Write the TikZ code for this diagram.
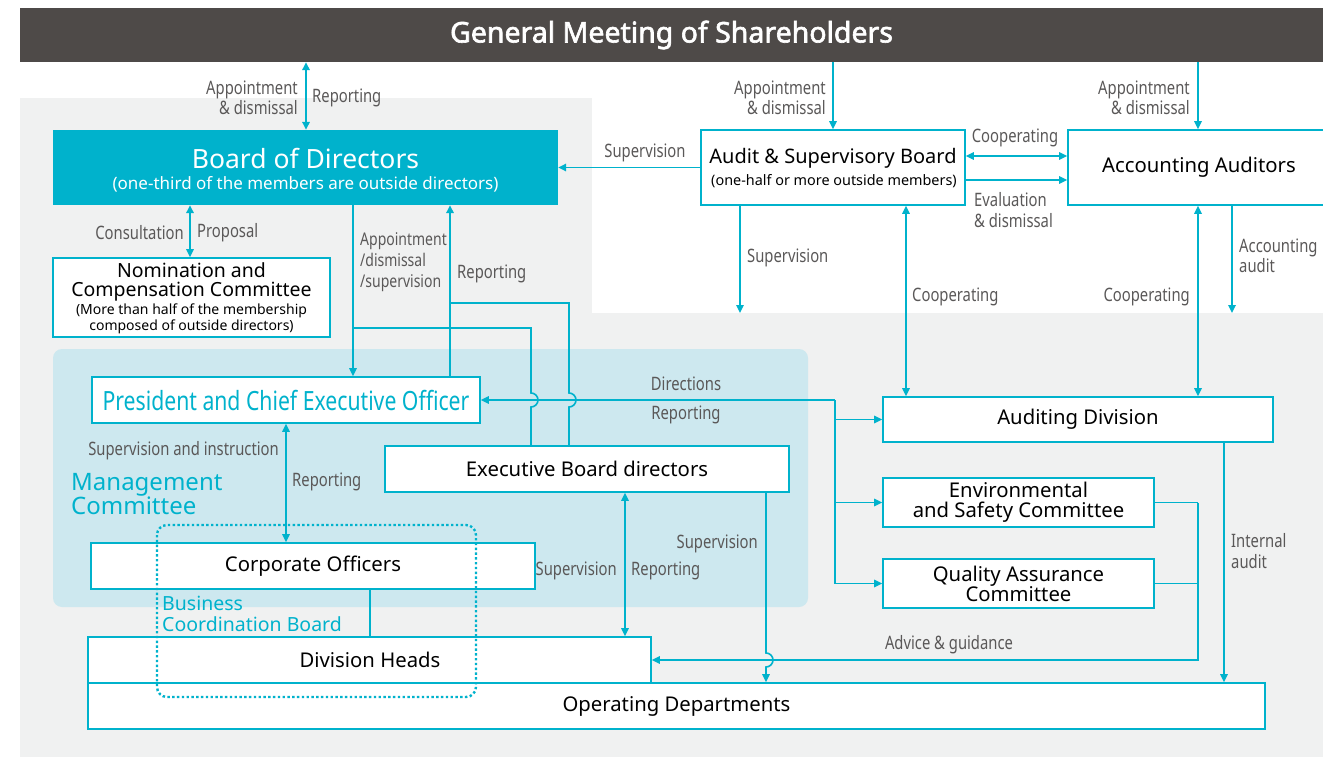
\documentclass[tikz,border=0pt]{standalone}
\usepackage{fontspec}
\setmainfont{Noto Sans}
\newfontfamily\condfont{Noto Sans}[FakeStretch=0.80]
\newfontfamily\titlefont{Noto Sans}[FakeBold=2.2]
\usetikzlibrary{arrows.meta,calc}
\definecolor{cy}{HTML}{00B2CC}
\definecolor{lbl}{HTML}{5A5858}
\definecolor{gmbg}{HTML}{4E4A48}
\definecolor{bgg}{HTML}{F0F1F1}
\definecolor{mgmt}{HTML}{CDE8EF}
\tikzset{
  box/.style={draw=cy, fill=white, line width=1.6pt, inner sep=0pt, align=center, text=black, font=\fontsize{20.3}{21}\selectfont},
  lab/.style={text=lbl, inner sep=0pt, font=\condfont\fontsize{18.5}{20.5}\selectfont},
  ln/.style={draw=cy, line width=1.6pt},
  ar/.style={ln, -{Triangle[length=8pt,width=7.5pt]}},
  arr/.style={ln, {Triangle[length=8pt,width=7.5pt]}-{Triangle[length=8pt,width=7.5pt]}},
}
\begin{document}
\begin{tikzpicture}[x=1pt,y=-1pt]
\useasboundingbox (0,0) rectangle (1323,757);
% backgrounds
\fill[bgg] (20,98) rectangle (592,313);
\fill[bgg] (20,313) rectangle (1323,757);
\fill[mgmt, rounded corners=9pt] (53,349) rectangle (808,607);
% title
\node[fill=gmbg, minimum width=1303pt, minimum height=54pt, inner sep=0pt, text=white, font=\titlefont\fontsize{28.5}{30}\selectfont] (gm) at (671.5,35) {General Meeting of Shareholders};
% boxes
\node[fill=cy, minimum width=505pt, minimum height=75pt, inner sep=0pt] (bod) at (305.5,167.5) {};
\node[text=white, font=\fontsize{26.5}{28}\selectfont, inner sep=0pt] (bodt) at (305.5,158) {Board of Directors};
\node[text=white, font=\fontsize{17}{18}\selectfont, inner sep=0pt] (bods) at (305.5,184) {(one-third of the members are outside directors)};
\node[box, minimum width=277pt, minimum height=79pt] (nom) at (191.5,297.5) {};
\node[inner sep=0pt, align=center, font=\fontsize{19.5}{18.5}\selectfont] (nomt) at (191.5,282) {Nomination and\\Compensation Committee};
\node[inner sep=0pt, align=center, font=\fontsize{14}{16}\selectfont] (noms) at (191.5,318.5) {(More than half of the membership\\composed of outside directors)};
\node[box, minimum width=264pt, minimum height=75pt] (asb) at (833,167.5) {};
\node[inner sep=0pt, font=\fontsize{20}{20}\selectfont] (asbt) at (833,158) {Audit \& Supervisory Board};
\node[inner sep=0pt, font=\fontsize{14.4}{16}\selectfont] (asbs) at (834,181) {(one-half or more outside members)};
\node[box, minimum width=262pt, minimum height=75pt] (aa) at (1199,167.5) {Accounting Auditors};
\node[box, minimum width=388pt, minimum height=46pt, text=cy, font=\condfont\fontsize{26.5}{27}\selectfont] (pres) at (286,400) {President and Chief Executive Officer};
\node[box, minimum width=404pt, minimum height=46pt] (ebd) at (587,469) {Executive Board directors};
\node[box, minimum width=444pt, minimum height=46pt] (co) at (313,566) {Corporate Officers};
\node[box, minimum width=1177pt, minimum height=46pt] (od) at (676.5,706) {Operating Departments};
\node[box, minimum width=563pt, minimum height=46pt] (dh) at (369.5,660) {};
\node[inner sep=0pt, font=\fontsize{20.3}{21}\selectfont] (dht) at (370,660) {Division Heads};
\node[box, minimum width=390pt, minimum height=45pt] (ad) at (1078,419.5) {Auditing Division};
\node[box, minimum width=271pt, minimum height=49pt, font=\fontsize{20.3}{20}\selectfont] (env) at (1018.5,502.5) {Environmental\\and Safety Committee};
\node[box, minimum width=271pt, minimum height=49pt, font=\fontsize{20.3}{20}\selectfont] (qa) at (1018.5,583.5) {Quality Assurance\\Committee};
% column coordinates
\foreach \x in {190,286,306,353,370,450,531,569,625,740,766,835,906,1198,1224,1232} {\coordinate (c\x) at (\x,0);}
\coordinate (r156) at (0,156);
\coordinate (r180) at (0,180);
\coordinate (r313) at (0,313);
\coordinate (r660) at (0,660);
% connectors
\draw[arr] (gm.south -| c306) -- (bod.north -| c306);
\draw[arr] (bod.south -| c190) -- (nom.north -| c190);
\draw[ar] (gm.south -| asb.north) -- (asb.north);
\draw[ar] (gm.south -| c1198) -- (aa.north -| c1198);
\draw[ar] (asb.west) -- (bod.east |- asb.west);
\draw[arr] (asb.east |- r156) -- (aa.west |- r156);
\draw[ar] (asb.east |- r180) -- (aa.west |- r180);
\draw[ar] (asb.south -| c740) -- (c740 |- r313);
\draw[ar] (aa.south -| c1232) -- (c1232 |- r313);
\draw[arr] (asb.south -| c906) -- (ad.north -| c906);
\draw[arr] (aa.south -| c1198) -- (ad.north -| c1198);
\draw[ar] (bod.south -| c353) -- (pres.north -| c353);
\draw[ar] (pres.north -| c450) -- (bod.south -| c450);
\draw[ln] (c353 |- 0,328) -- (c531 |- 0,328) -- (c531 |- 0,393) arc[start angle=90,end angle=-90,radius=7pt] -- (ebd.north -| c531);
\draw[ln] (c450 |- 0,303) -- (c569 |- 0,303) -- (c569 |- 0,393) arc[start angle=90,end angle=-90,radius=7pt] -- (ebd.north -| c569);
\draw[ar] (c835 |- pres.east) -- (pres.east);
\draw[ln] (c835 |- pres.east) -- (c835 |- qa.west);
\draw[ar] (c835 |- ad.west) -- (ad.west);
\draw[ar] (c835 |- env.west) -- (env.west);
\draw[ar] (c835 |- qa.west) -- (qa.west);
\draw[ln] (env.east) -- (c1198 |- env.east);
\draw[ln] (qa.east) -- (c1198 |- qa.east);
\draw[ar] (c1198 |- env.east) -- (c1198 |- r660) -- (dh.east |- r660);
\draw[ar] (ad.south -| c1224) -- (od.north -| c1224);
\draw[ar] (ebd.south -| c766) -- (c766 |- 0,653) arc[start angle=90,end angle=-90,radius=7pt] -- (od.north -| c766);
\draw[arr] (ebd.south -| c625) -- (dh.north -| c625);
\draw[arr] (pres.south -| c286) -- (co.north -| c286);
\draw[ln] (co.south -| c370) -- (dh.north -| c370);
% business coordination board
\draw[cy, line width=2.4pt, dash pattern=on 2.4pt off 2.4pt, rounded corners=10pt] (157,525) rectangle (476,697);
% labels
\node[lab, align=right, anchor=east] (l1) at (298,98) {Appointment\\\& dismissal};
\node[lab, anchor=west] (l2) at (312,98) {Reporting};
\node[lab, anchor=east] (l3) at (184,233) {Consultation};
\node[lab, anchor=west] (l4) at (197,233) {Proposal};
\node[lab] (l5) at (645,153) {Supervision};
\node[lab, align=right, anchor=east] (l6) at (826,98) {Appointment\\\& dismissal};
\node[lab, align=right, anchor=east] (l7) at (1190,98) {Appointment\\\& dismissal};
\node[lab] (l8) at (1015,138) {Cooperating};
\node[lab, align=left, anchor=west] (l9) at (974,210) {Evaluation\\\& dismissal};
\node[lab, anchor=west] (l10) at (747,258) {Supervision};
\node[lab, anchor=west] (l11) at (912,297) {Cooperating};
\node[lab, anchor=east] (l12) at (1190,297) {Cooperating};
\node[lab, align=left, anchor=west] (l13) at (1239,256) {Accounting\\audit};
\node[lab, align=left, anchor=west, font=\condfont\fontsize{17.5}{21}\selectfont] (l14) at (360,262) {Appointment\\/dismissal\\/supervision};
\node[lab, anchor=west] (l15) at (457,274) {Reporting};
\node[lab] (l16) at (686,384) {Directions};
\node[lab] (l17) at (686,415) {Reporting};
\node[lab, anchor=east] (l18) at (279,451) {Supervision and instruction};
\node[lab, anchor=west] (l19) at (292,482) {Reporting};
\node[lab, anchor=east] (l20) at (617,571) {Supervision};
\node[lab, anchor=west] (l21) at (631,571) {Reporting};
\node[lab, anchor=east] (l22) at (758,544) {Supervision};
\node[lab, align=left, anchor=west] (l23) at (1231,551) {Internal\\audit};
\node[lab] (l24) at (949,645) {Advice \& guidance};
\node[text=cy, inner sep=0pt, align=left, anchor=west, font=\fontsize{24}{24}\selectfont] (mc) at (71,494) {Management\\Committee};
\node[text=cy, inner sep=0pt, align=left, anchor=west, font=\fontsize{19.5}{21}\selectfont] (bcb) at (162,614) {Business\\Coordination Board};
\end{tikzpicture}
\end{document}
